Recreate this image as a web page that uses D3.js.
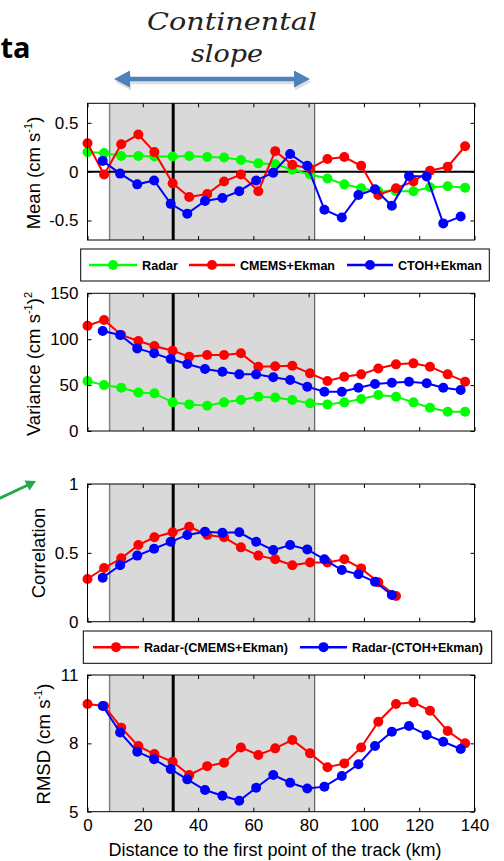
<!DOCTYPE html>
<html>
<head>
<meta charset="utf-8">
<script src="https://cdn.jsdelivr.net/npm/d3@7"></script>
<style>
  body { margin: 0; background: #fff; }
  svg { display: block; font-family: "Liberation Sans", Arial, sans-serif; }
</style>
</head>
<body>
<script>
// distances along the track (km), radar / CMEMS grid and CTOH grid
const distA = [0, 6.0, 12.2, 18.4, 24.2, 30.8, 36.8, 43.3, 49.4, 55.5, 61.8, 67.9, 74.1,
               80.5, 86.8, 92.9, 99.0, 105.2, 111.6, 117.9, 123.9, 130.3, 136.6];
const distB = [5.5, 11.8, 18.0, 24.1, 30.1, 36.1, 42.5, 48.8, 54.9, 61.0, 67.2, 73.3,
               79.5, 85.7, 92.0, 98.0, 104.0, 110.1, 116.3, 122.7, 128.7, 135.0];

const slopeStart = 8, slopeEnd = 82.2, shelfBreak = 31;

const meanRadar = [0.20, 0.19, 0.16, 0.16, 0.155, 0.155, 0.16, 0.15, 0.145, 0.12, 0.085, 0.075,
                   0.02, -0.03, -0.07, -0.13, -0.17, -0.20, -0.20, -0.20, -0.16, -0.15, -0.165];
const meanCmems = [0.29, -0.03, 0.28, 0.38, 0.20, -0.12, -0.26, -0.23, -0.10, -0.03, -0.20, 0.21,
                   0.07, 0.03, 0.13, 0.15, 0.06, -0.24, -0.17, -0.10, 0.01, 0.05, 0.26];
const meanCtoh = [0.11, -0.02, -0.13, -0.09, -0.33, -0.43, -0.30, -0.27, -0.20, -0.09, -0.01,
                  0.18, 0.06, -0.39, -0.47, -0.24, -0.18, -0.35, -0.045, -0.05, -0.53, -0.46];

const varRadar = [54.5, 50, 47.2, 42, 41, 31.2, 29, 27.6, 31.2, 33.8, 37.4, 36.5,
                  33.8, 30.1, 29, 31.2, 34.9, 39.2, 37.4, 31.2, 25.4, 21, 21];
const varCmems = [114.7, 121, 104.6, 98, 92.6, 87.5, 81, 82.8, 82.8, 84.6, 70, 70.5,
                  71, 62.8, 54.5, 59, 61.7, 68, 72.6, 73.7, 70, 61.7, 53.7];
const varCtoh = [109, 104.6, 90, 84.6, 78.4, 73, 67.5, 64.6, 61.7, 61.7, 58.5,
                 55.5, 48.3, 42.8, 42.8, 47.2, 51.2, 52.6, 53.7, 52, 47.2, 44.7];

const corCmems = [0.31, 0.39, 0.46, 0.557, 0.613, 0.649, 0.69, 0.63, 0.613, 0.54,
                  0.48, 0.453, 0.41, 0.43, 0.43, 0.453, 0.387, 0.286, 0.186];
const corCtoh = [0.32, 0.41, 0.48, 0.53, 0.58, 0.63, 0.654, 0.646, 0.649,
                 0.58, 0.52, 0.557, 0.525, 0.453, 0.375, 0.344, 0.29, 0.194];

const rmsdCmems = [9.73, 9.64, 8.69, 7.88, 7.53, 7.19, 6.61, 7.0, 7.15, 7.82, 7.49, 7.78,
                   8.15, 7.56, 6.95, 7.12, 7.82, 8.95, 9.73, 9.80, 9.43, 8.54, 8.0];
const rmsdCtoh = [9.64, 8.48, 7.63, 7.30, 6.87, 6.42, 5.95, 5.70, 5.48, 6.05, 6.61,
                  6.27, 6.02, 6.10, 6.57, 7.08, 7.88, 8.51, 8.76, 8.37, 8.07, 7.75];

const xTicks = [0, 20, 40, 60, 80, 100, 120, 140];
const meanTicks = [-0.5, 0, 0.5], meanLabels = ['-0.5', '0', '0.5'];
const varTicks = [0, 50, 100, 150], varLabels = ['0', '50', '100', '150'];
const corTicks = [0, 0.5, 1], corLabels = ['0', '0.5', '1'];
const rmsdTicks = [5, 8, 11], rmsdLabels = ['5', '8', '11'];

const GREEN = '#00ff00', RED = '#ff0000', BLUE = '#0000ff';

const svg = d3.select('body').append('svg')
    .attr('width', 504)
    .attr('height', 861);

const x = d3.scaleLinear().domain([0, 140]).range([87.5, 474.5]);
const left = x(0), right = x(140);

function styleAxis(g) {
    g.select('.domain').remove();
    g.selectAll('.tick line').attr('stroke', '#000');
    g.selectAll('.tick text').attr('fill', '#000').attr('font-size', 17);
}

function drawPanel(top, bottom, domain, ticks, labels, showX) {
    const y = d3.scaleLinear().domain(domain).range([bottom, top]);
    const g = svg.append('g');
    // continental slope band
    g.append('rect')
        .attr('x', x(slopeStart)).attr('y', top)
        .attr('width', x(slopeEnd) - x(slopeStart)).attr('height', bottom - top)
        .attr('fill', '#d9d9d9');
    g.append('line')
        .attr('x1', x(slopeStart)).attr('x2', x(slopeStart))
        .attr('y1', top).attr('y2', bottom)
        .attr('stroke', '#808080').attr('stroke-width', 1.5);
    g.append('line')
        .attr('x1', x(slopeEnd)).attr('x2', x(slopeEnd))
        .attr('y1', top).attr('y2', bottom)
        .attr('stroke', '#444').attr('stroke-width', 1);
    g.append('line')
        .attr('x1', x(shelfBreak)).attr('x2', x(shelfBreak))
        .attr('y1', top).attr('y2', bottom)
        .attr('stroke', '#000').attr('stroke-width', 3);
    return {g, y, top, bottom, ticks, labels, showX};
}

function drawFrame(p) {
    const {g, y, top, bottom, ticks, labels, showX} = p;
    g.append('g').attr('transform', `translate(${left},0)`)
        .call(d3.axisLeft(y).tickValues(ticks).tickFormat((d, i) => labels[i])
            .tickSize(-4).tickSizeOuter(0).tickPadding(9))
        .call(styleAxis);
    g.append('g').attr('transform', `translate(${right},0)`)
        .call(d3.axisRight(y).tickValues(ticks).tickFormat('').tickSize(-4).tickSizeOuter(0))
        .call(styleAxis);
    g.append('g').attr('transform', `translate(0,${bottom})`)
        .call(d3.axisBottom(x).tickValues(xTicks).tickFormat(showX ? d3.format('d') : '')
            .tickSize(-4).tickSizeOuter(0).tickPadding(7))
        .call(styleAxis);
    g.append('g').attr('transform', `translate(0,${top})`)
        .call(d3.axisTop(x).tickValues(xTicks).tickFormat('').tickSize(-4).tickSizeOuter(0))
        .call(styleAxis);
    g.append('rect')
        .attr('x', left).attr('y', top)
        .attr('width', right - left).attr('height', bottom - top)
        .attr('fill', 'none').attr('stroke', '#000').attr('stroke-width', 1);
}

function drawSeries(p, xs, ys, colour) {
    const line = d3.line().x((d, i) => x(xs[i])).y(d => p.y(d));
    p.g.append('path')
        .attr('d', line(ys))
        .attr('fill', 'none').attr('stroke', colour).attr('stroke-width', 2);
    p.g.selectAll(null)
        .data(ys)
        .enter()
        .append('circle')
            .attr('cx', (d, i) => x(xs[i]))
            .attr('cy', d => p.y(d))
            .attr('r', 5)
            .attr('fill', colour);
}

function yLabel(cx, cy, parts, size) {
    const t = svg.append('text')
        .attr('transform', `translate(${cx},${cy}) rotate(-90)`)
        .attr('text-anchor', 'middle')
        .attr('font-size', size)
        .attr('fill', '#000');
    parts.forEach(p => {
        const s = t.append('tspan').text(p.t);
        if (p.sup) s.attr('font-size', size * 0.6).attr('dy', -size * 0.45);
        if (p.down) s.attr('dy', size * 0.45);
    });
}

function legend(x0, y0, w, h, items) {
    svg.append('rect')
        .attr('x', x0).attr('y', y0).attr('width', w).attr('height', h)
        .attr('fill', '#fff').attr('stroke', '#000').attr('stroke-width', 1);
    const cy = y0 + h / 2;
    items.forEach(it => {
        svg.append('line')
            .attr('x1', it.x1).attr('x2', it.x2).attr('y1', cy).attr('y2', cy)
            .attr('stroke', it.c).attr('stroke-width', 2.5);
        svg.append('circle')
            .attr('cx', (it.x1 + it.x2) / 2).attr('cy', cy).attr('r', 5).attr('fill', it.c);
        svg.append('text')
            .attr('x', it.x2 + 5).attr('y', cy)
            .attr('dy', '0.36em')
            .attr('font-size', 13.5).attr('font-weight', 'bold')
            .attr('textLength', it.w).attr('lengthAdjust', 'spacingAndGlyphs')
            .text(it.t);
    });
}

// panel 1: mean
const p1 = drawPanel(103.3, 240, [-0.7, 0.7], meanTicks, meanLabels, false);
p1.g.append('line')
    .attr('x1', left).attr('x2', right).attr('y1', p1.y(0)).attr('y2', p1.y(0))
    .attr('stroke', '#000').attr('stroke-width', 2);
drawSeries(p1, distA, meanRadar, GREEN);
drawSeries(p1, distA, meanCmems, RED);
drawSeries(p1, distB, meanCtoh, BLUE);
drawFrame(p1);

// panel 2: variance
const p2 = drawPanel(293.3, 431, [0, 150], varTicks, varLabels, false);
drawSeries(p2, distA, varRadar, GREEN);
drawSeries(p2, distA, varCmems, RED);
drawSeries(p2, distB, varCtoh, BLUE);
drawFrame(p2);

// panel 3: correlation
const p3 = drawPanel(484, 621.7, [0, 1], corTicks, corLabels, false);
drawSeries(p3, distA, corCmems, RED);
drawSeries(p3, distB, corCtoh, BLUE);
drawFrame(p3);

// panel 4: rmsd
const p4 = drawPanel(675, 811.7, [5, 11], rmsdTicks, rmsdLabels, true);
drawSeries(p4, distA, rmsdCmems, RED);
drawSeries(p4, distB, rmsdCtoh, BLUE);
drawFrame(p4);

// axis labels
yLabel(40, 173, [{t: 'Mean (cm s'}, {t: '-1', sup: true}, {t: ')', down: true}], 18.5);
yLabel(40, 364, [{t: 'Variance (cm s'}, {t: '-1', sup: true}, {t: ')', down: true}, {t: '2', sup: true}], 18.5);
yLabel(45, 553, [{t: 'Correlation'}], 18.5);
yLabel(50, 744, [{t: 'RMSD (cm s'}, {t: '-1', sup: true}, {t: ')', down: true}], 18.5);

svg.append('text')
    .attr('x', 275).attr('y', 856)
    .attr('text-anchor', 'middle')
    .attr('font-size', 18)
    .text('Distance to the first point of the track (km)');

// legends
legend(80.7, 249, 408.6, 32, [
    {t: 'Radar', c: GREEN, x1: 89, x2: 137, w: 36},
    {t: 'CMEMS+Ekman', c: RED, x1: 189, x2: 235, w: 95},
    {t: 'CTOH+Ekman', c: BLUE, x1: 347, x2: 393, w: 84}
]);
legend(83.3, 631, 408.4, 32.3, [
    {t: 'Radar-(CMEMS+Ekman)', c: RED, x1: 93, x2: 139, w: 144},
    {t: 'Radar-(CTOH+Ekman)', c: BLUE, x1: 300, x2: 347, w: 131}
]);

// slide annotations
svg.append('text')
    .attr('x', 0.5).attr('y', 58)
    .attr('font-family', '"Open Sans", sans-serif')
    .attr('font-weight', 'bold').attr('font-size', 29)
    .text('ta');

svg.append('text')
    .attr('x', 147).attr('y', 30)
    .attr('font-family', '"DejaVu Serif", serif').attr('font-style', 'italic')
    .attr('font-size', 24).attr('fill', '#222')
    .attr('textLength', 170).attr('lengthAdjust', 'spacingAndGlyphs')
    .text('Continental');
svg.append('text')
    .attr('x', 191).attr('y', 62)
    .attr('font-family', '"DejaVu Serif", serif').attr('font-style', 'italic')
    .attr('font-size', 24).attr('fill', '#222')
    .attr('textLength', 72).attr('lengthAdjust', 'spacingAndGlyphs')
    .text('slope');

// double arrow with soft shadow
const arrowPath = 'M114,79 L130,70.5 L130,76.8 L294,76.8 L294,70.5 L310,79 L294,87.5 L294,81.2 L130,81.2 L130,87.5 Z';
svg.append('path').attr('d', arrowPath)
    .attr('transform', 'translate(1,3)')
    .attr('fill', '#c8c8c8').attr('opacity', 0.6);
svg.append('path').attr('d', arrowPath).attr('fill', '#4f81bd');

// green arrow on the left edge
svg.append('line')
    .attr('x1', -2).attr('y1', 499).attr('x2', 28).attr('y2', 485)
    .attr('stroke', '#23a84e').attr('stroke-width', 3);
svg.append('path')
    .attr('d', 'M36,481 L29.5,490.5 L24.5,480.5 Z')
    .attr('fill', '#23a84e');
</script>
</body>
</html>
